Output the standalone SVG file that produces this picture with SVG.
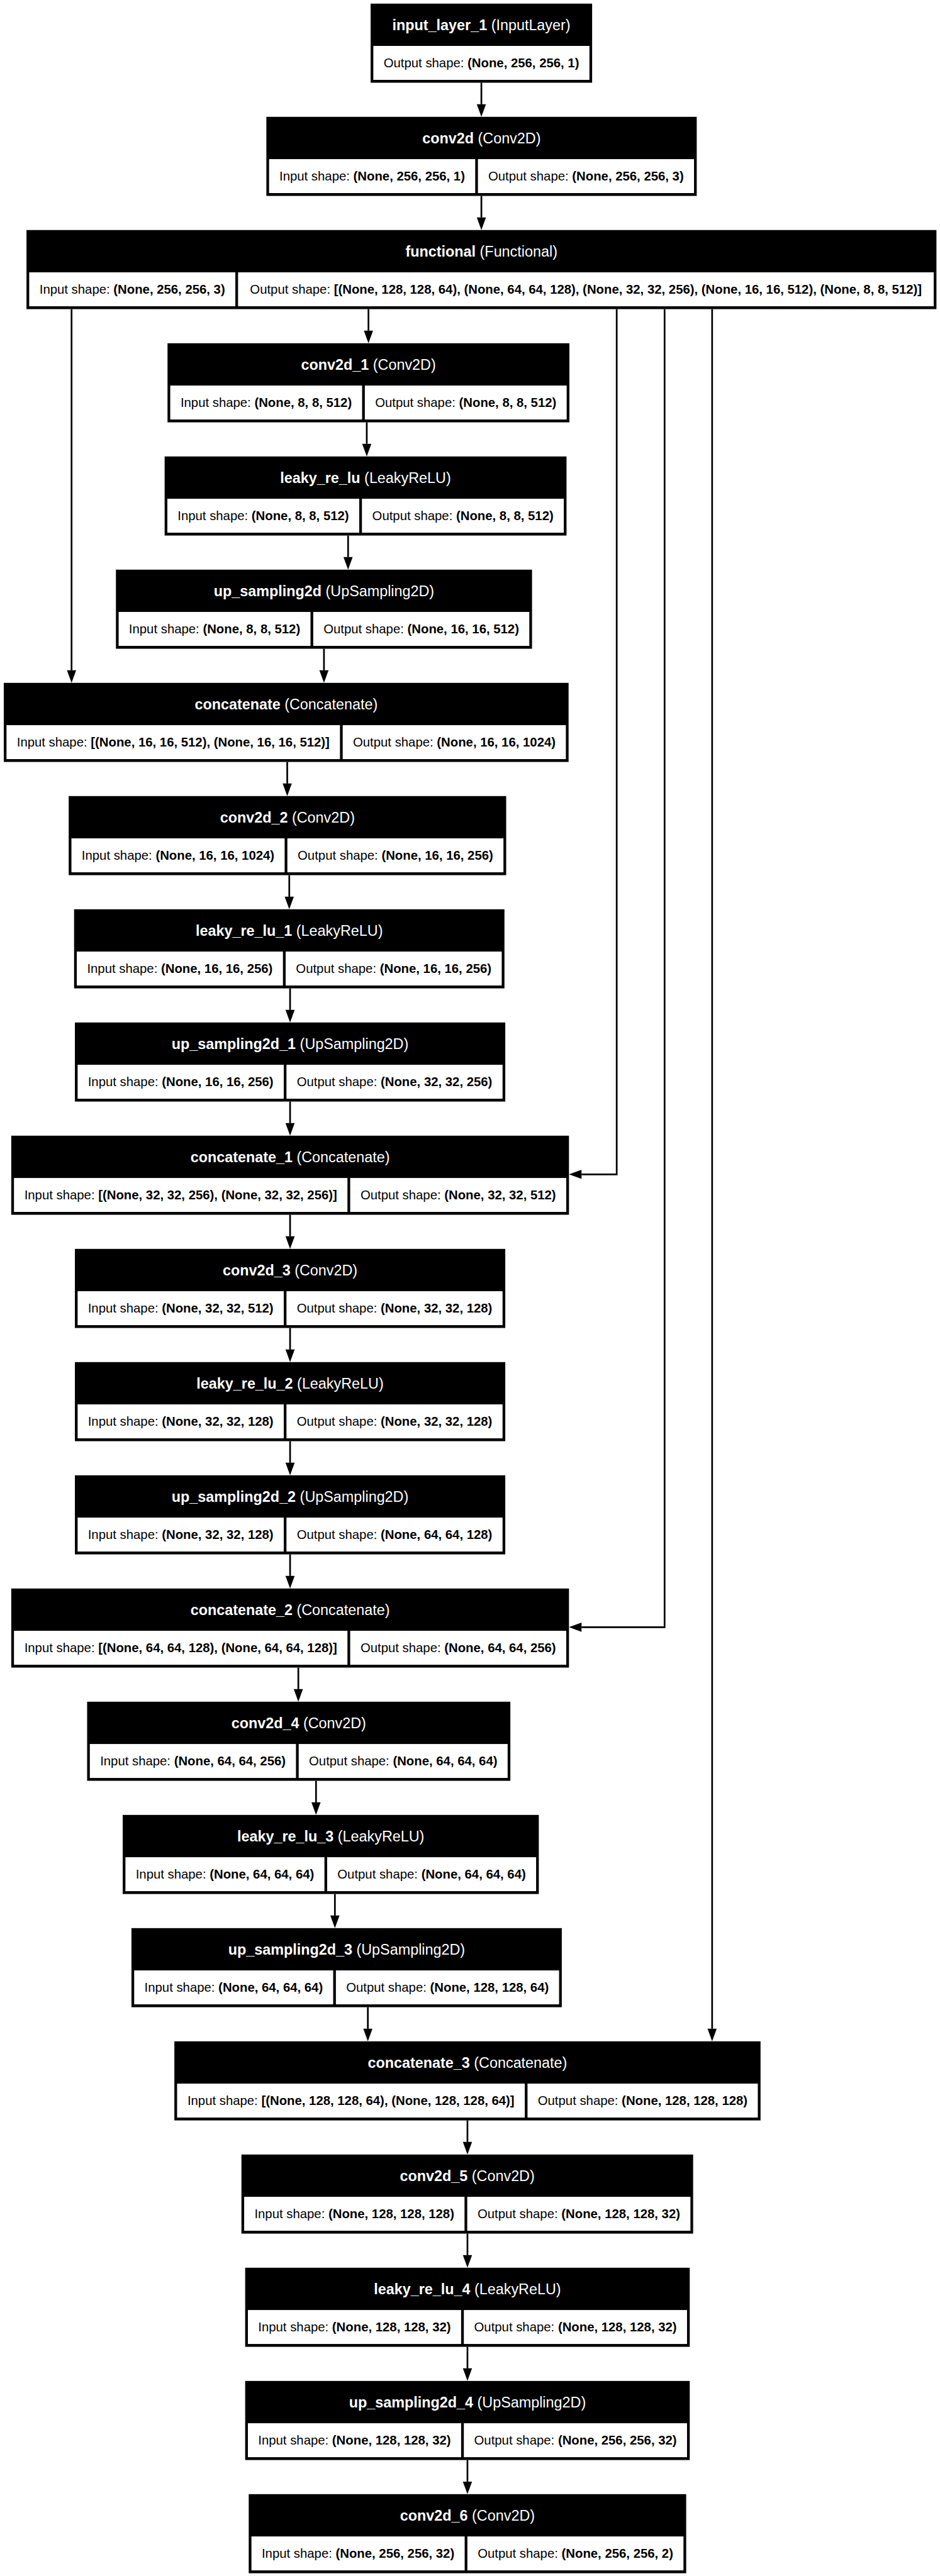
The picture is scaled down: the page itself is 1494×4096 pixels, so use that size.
<svg xmlns="http://www.w3.org/2000/svg" width="1494" height="4096" viewBox="0 0 1494 4096">
<style>
.nb{fill:#000}
.cl{fill:#fff}
.h{font-family:"Liberation Sans",Arial,Helvetica,sans-serif;font-size:43.3px;fill:#fff;text-anchor:middle}
.b{font-family:"Liberation Sans",Arial,Helvetica,sans-serif;font-size:37.7px;fill:#000;text-anchor:middle}
.bd{font-weight:bold}
.e{fill:none;stroke:#000;stroke-width:5;stroke-linejoin:miter;marker-end:url(#ah)}
</style>
<defs>
<marker id="ah" markerUnits="userSpaceOnUse" markerWidth="37" markerHeight="27" refX="0" refY="13.5" orient="auto" viewBox="0 0 37 27" overflow="visible"><path d="M0,0 L37,13.5 L0,27 z" fill="#000"/></marker>
</defs>
<rect width="1494" height="4096" fill="#fff"/>
<g transform="scale(0.53974)">
<g id="connectors">
<path class="e" d="M1417.5,243.7 V307.2"/>
<path class="e" d="M1417.5,577.2 V640.7"/>
<path class="e" d="M1085,910.7 V974.2"/>
<path class="e" d="M210.7,910.7 V1974.7"/>
<path class="e" d="M1816,910.7 V3459.7 H1712.45"/>
<path class="e" d="M1957,910.7 V4793.7 H1712.45"/>
<path class="e" d="M2097,910.7 V5976.7"/>
<path class="e" d="M1080,1244.2 V1307.7"/>
<path class="e" d="M1025,1577.7 V1641.2"/>
<path class="e" d="M954,1911.2 V1974.7"/>
<path class="e" d="M845.8,2244.7 V2308.2"/>
<path class="e" d="M851.8,2578.2 V2641.7"/>
<path class="e" d="M854.2,2911.7 V2975.2"/>
<path class="e" d="M854.2,3245.2 V3308.7"/>
<path class="e" d="M854.2,3578.7 V3642.2"/>
<path class="e" d="M854.2,3912.2 V3975.7"/>
<path class="e" d="M854.2,4245.7 V4309.2"/>
<path class="e" d="M854.2,4579.2 V4642.7"/>
<path class="e" d="M878.5,4912.7 V4976.2"/>
<path class="e" d="M930.6,5246.2 V5309.7"/>
<path class="e" d="M986.2,5579.7 V5643.2"/>
<path class="e" d="M1083.2,5913.2 V5976.7"/>
<path class="e" d="M1376.5,6246.7 V6310.2"/>
<path class="e" d="M1376.5,6580.2 V6643.7"/>
<path class="e" d="M1376.5,6913.7 V6977.2"/>
<path class="e" d="M1376.5,7247.2 V7310.7"/>
</g>

<g id="input_layer_1">
<rect class="nb" x="1091.35" y="10.7" width="652.3" height="233"/>
<rect class="cl" x="1099.35" y="135.3" width="636.3" height="100"/>
<text class="h" x="1417.5" y="88.7"><tspan class="bd">input_layer_1</tspan> (InputLayer)</text>
<text class="b" x="1417.5" y="198.7">Output shape: <tspan class="bd">(None, 256, 256, 1)</tspan></text>
</g>

<g id="conv2d">
<rect class="nb" x="784.35" y="344.2" width="1267.3" height="233"/>
<rect class="cl" x="792.35" y="468.8" width="607" height="100"/>
<rect class="cl" x="1407.35" y="468.8" width="636.3" height="100"/>
<text class="h" x="1418" y="422.2"><tspan class="bd">conv2d</tspan> (Conv2D)</text>
<text class="b" x="1095.85" y="532.2">Input shape: <tspan class="bd">(None, 256, 256, 1)</tspan></text>
<text class="b" x="1725.5" y="532.2">Output shape: <tspan class="bd">(None, 256, 256, 3)</tspan></text>
</g>

<g id="functional">
<rect class="nb" x="78" y="677.7" width="2679.5" height="233"/>
<rect class="cl" x="86" y="802.3" width="607" height="100"/>
<rect class="cl" x="701" y="802.3" width="2048.5" height="100"/>
<text class="h" x="1417.75" y="755.7"><tspan class="bd">functional</tspan> (Functional)</text>
<text class="b" x="389.5" y="865.7">Input shape: <tspan class="bd">(None, 256, 256, 3)</tspan></text>
<text class="b" x="1725.25" y="865.7">Output shape: <tspan class="bd">[(None, 128, 128, 64), (None, 64, 64, 128), (None, 32, 32, 256), (None, 16, 16, 512), (None, 8, 8, 512)]</tspan></text>
</g>

<g id="conv2d_1">
<rect class="nb" x="493.3" y="1011.2" width="1183.4" height="233"/>
<rect class="cl" x="501.3" y="1135.8" width="565" height="100"/>
<rect class="cl" x="1074.3" y="1135.8" width="594.4" height="100"/>
<text class="h" x="1085" y="1089.2"><tspan class="bd">conv2d_1</tspan> (Conv2D)</text>
<text class="b" x="783.8" y="1199.2">Input shape: <tspan class="bd">(None, 8, 8, 512)</tspan></text>
<text class="b" x="1371.5" y="1199.2">Output shape: <tspan class="bd">(None, 8, 8, 512)</tspan></text>
</g>

<g id="leaky_re_lu">
<rect class="nb" x="484.8" y="1344.7" width="1183.4" height="233"/>
<rect class="cl" x="492.8" y="1469.3" width="565" height="100"/>
<rect class="cl" x="1065.8" y="1469.3" width="594.4" height="100"/>
<text class="h" x="1076.5" y="1422.7"><tspan class="bd">leaky_re_lu</tspan> (LeakyReLU)</text>
<text class="b" x="775.3" y="1532.7">Input shape: <tspan class="bd">(None, 8, 8, 512)</tspan></text>
<text class="b" x="1363" y="1532.7">Output shape: <tspan class="bd">(None, 8, 8, 512)</tspan></text>
</g>

<g id="up_sampling2d">
<rect class="nb" x="341.35" y="1678.2" width="1225.3" height="233"/>
<rect class="cl" x="349.35" y="1802.8" width="565" height="100"/>
<rect class="cl" x="922.35" y="1802.8" width="636.3" height="100"/>
<text class="h" x="954" y="1756.2"><tspan class="bd">up_sampling2d</tspan> (UpSampling2D)</text>
<text class="b" x="631.85" y="1866.2">Input shape: <tspan class="bd">(None, 8, 8, 512)</tspan></text>
<text class="b" x="1240.5" y="1866.2">Output shape: <tspan class="bd">(None, 16, 16, 512)</tspan></text>
</g>

<g id="concatenate">
<rect class="nb" x="11.1" y="2011.7" width="1663.2" height="233"/>
<rect class="cl" x="19.1" y="2136.3" width="982" height="100"/>
<rect class="cl" x="1009.1" y="2136.3" width="657.2" height="100"/>
<text class="h" x="842.7" y="2089.7"><tspan class="bd">concatenate</tspan> (Concatenate)</text>
<text class="b" x="510.1" y="2199.7">Input shape: <tspan class="bd">[(None, 16, 16, 512), (None, 16, 16, 512)]</tspan></text>
<text class="b" x="1337.7" y="2199.7">Output shape: <tspan class="bd">(None, 16, 16, 1024)</tspan></text>
</g>

<g id="conv2d_2">
<rect class="nb" x="202.3" y="2345.2" width="1288.2" height="233"/>
<rect class="cl" x="210.3" y="2469.8" width="627.9" height="100"/>
<rect class="cl" x="846.2" y="2469.8" width="636.3" height="100"/>
<text class="h" x="846.4" y="2423.2"><tspan class="bd">conv2d_2</tspan> (Conv2D)</text>
<text class="b" x="524.25" y="2533.2">Input shape: <tspan class="bd">(None, 16, 16, 1024)</tspan></text>
<text class="b" x="1164.35" y="2533.2">Output shape: <tspan class="bd">(None, 16, 16, 256)</tspan></text>
</g>

<g id="leaky_re_lu_1">
<rect class="nb" x="218.15" y="2678.7" width="1267.3" height="233"/>
<rect class="cl" x="226.15" y="2803.3" width="607" height="100"/>
<rect class="cl" x="841.15" y="2803.3" width="636.3" height="100"/>
<text class="h" x="851.8" y="2756.7"><tspan class="bd">leaky_re_lu_1</tspan> (LeakyReLU)</text>
<text class="b" x="529.65" y="2866.7">Input shape: <tspan class="bd">(None, 16, 16, 256)</tspan></text>
<text class="b" x="1159.3" y="2866.7">Output shape: <tspan class="bd">(None, 16, 16, 256)</tspan></text>
</g>

<g id="up_sampling2d_1">
<rect class="nb" x="220.55" y="3012.2" width="1267.3" height="233"/>
<rect class="cl" x="228.55" y="3136.8" width="607" height="100"/>
<rect class="cl" x="843.55" y="3136.8" width="636.3" height="100"/>
<text class="h" x="854.2" y="3090.2"><tspan class="bd">up_sampling2d_1</tspan> (UpSampling2D)</text>
<text class="b" x="532.05" y="3200.2">Input shape: <tspan class="bd">(None, 16, 16, 256)</tspan></text>
<text class="b" x="1161.7" y="3200.2">Output shape: <tspan class="bd">(None, 32, 32, 256)</tspan></text>
</g>

<g id="concatenate_1">
<rect class="nb" x="33.15" y="3345.7" width="1642.3" height="233"/>
<rect class="cl" x="41.15" y="3470.3" width="982" height="100"/>
<rect class="cl" x="1031.15" y="3470.3" width="636.3" height="100"/>
<text class="h" x="854.3" y="3423.7"><tspan class="bd">concatenate_1</tspan> (Concatenate)</text>
<text class="b" x="532.15" y="3533.7">Input shape: <tspan class="bd">[(None, 32, 32, 256), (None, 32, 32, 256)]</tspan></text>
<text class="b" x="1349.3" y="3533.7">Output shape: <tspan class="bd">(None, 32, 32, 512)</tspan></text>
</g>

<g id="conv2d_3">
<rect class="nb" x="220.55" y="3679.2" width="1267.3" height="233"/>
<rect class="cl" x="228.55" y="3803.8" width="607" height="100"/>
<rect class="cl" x="843.55" y="3803.8" width="636.3" height="100"/>
<text class="h" x="854.2" y="3757.2"><tspan class="bd">conv2d_3</tspan> (Conv2D)</text>
<text class="b" x="532.05" y="3867.2">Input shape: <tspan class="bd">(None, 32, 32, 512)</tspan></text>
<text class="b" x="1161.7" y="3867.2">Output shape: <tspan class="bd">(None, 32, 32, 128)</tspan></text>
</g>

<g id="leaky_re_lu_2">
<rect class="nb" x="220.55" y="4012.7" width="1267.3" height="233"/>
<rect class="cl" x="228.55" y="4137.3" width="607" height="100"/>
<rect class="cl" x="843.55" y="4137.3" width="636.3" height="100"/>
<text class="h" x="854.2" y="4090.7"><tspan class="bd">leaky_re_lu_2</tspan> (LeakyReLU)</text>
<text class="b" x="532.05" y="4200.7">Input shape: <tspan class="bd">(None, 32, 32, 128)</tspan></text>
<text class="b" x="1161.7" y="4200.7">Output shape: <tspan class="bd">(None, 32, 32, 128)</tspan></text>
</g>

<g id="up_sampling2d_2">
<rect class="nb" x="220.55" y="4346.2" width="1267.3" height="233"/>
<rect class="cl" x="228.55" y="4470.8" width="607" height="100"/>
<rect class="cl" x="843.55" y="4470.8" width="636.3" height="100"/>
<text class="h" x="854.2" y="4424.2"><tspan class="bd">up_sampling2d_2</tspan> (UpSampling2D)</text>
<text class="b" x="532.05" y="4534.2">Input shape: <tspan class="bd">(None, 32, 32, 128)</tspan></text>
<text class="b" x="1161.7" y="4534.2">Output shape: <tspan class="bd">(None, 64, 64, 128)</tspan></text>
</g>

<g id="concatenate_2">
<rect class="nb" x="33.15" y="4679.7" width="1642.3" height="233"/>
<rect class="cl" x="41.15" y="4804.3" width="982" height="100"/>
<rect class="cl" x="1031.15" y="4804.3" width="636.3" height="100"/>
<text class="h" x="854.3" y="4757.7"><tspan class="bd">concatenate_2</tspan> (Concatenate)</text>
<text class="b" x="532.15" y="4867.7">Input shape: <tspan class="bd">[(None, 64, 64, 128), (None, 64, 64, 128)]</tspan></text>
<text class="b" x="1349.3" y="4867.7">Output shape: <tspan class="bd">(None, 64, 64, 256)</tspan></text>
</g>

<g id="conv2d_4">
<rect class="nb" x="256.55" y="5013.2" width="1246.3" height="233"/>
<rect class="cl" x="264.55" y="5137.8" width="607" height="100"/>
<rect class="cl" x="879.55" y="5137.8" width="615.3" height="100"/>
<text class="h" x="879.7" y="5091.2"><tspan class="bd">conv2d_4</tspan> (Conv2D)</text>
<text class="b" x="568.05" y="5201.2">Input shape: <tspan class="bd">(None, 64, 64, 256)</tspan></text>
<text class="b" x="1187.2" y="5201.2">Output shape: <tspan class="bd">(None, 64, 64, 64)</tspan></text>
</g>

<g id="leaky_re_lu_3">
<rect class="nb" x="361.35" y="5346.7" width="1225.3" height="233"/>
<rect class="cl" x="369.35" y="5471.3" width="586" height="100"/>
<rect class="cl" x="963.35" y="5471.3" width="615.3" height="100"/>
<text class="h" x="974" y="5424.7"><tspan class="bd">leaky_re_lu_3</tspan> (LeakyReLU)</text>
<text class="b" x="662.35" y="5534.7">Input shape: <tspan class="bd">(None, 64, 64, 64)</tspan></text>
<text class="b" x="1271" y="5534.7">Output shape: <tspan class="bd">(None, 64, 64, 64)</tspan></text>
</g>

<g id="up_sampling2d_3">
<rect class="nb" x="387.1" y="5680.2" width="1267.2" height="233"/>
<rect class="cl" x="395.1" y="5804.8" width="586" height="100"/>
<rect class="cl" x="989.1" y="5804.8" width="657.2" height="100"/>
<text class="h" x="1020.7" y="5758.2"><tspan class="bd">up_sampling2d_3</tspan> (UpSampling2D)</text>
<text class="b" x="688.1" y="5868.2">Input shape: <tspan class="bd">(None, 64, 64, 64)</tspan></text>
<text class="b" x="1317.7" y="5868.2">Output shape: <tspan class="bd">(None, 128, 128, 64)</tspan></text>
</g>

<g id="concatenate_3">
<rect class="nb" x="513.45" y="6013.7" width="1726.1" height="233"/>
<rect class="cl" x="521.45" y="6138.3" width="1023.9" height="100"/>
<rect class="cl" x="1553.35" y="6138.3" width="678.2" height="100"/>
<text class="h" x="1376.5" y="6091.7"><tspan class="bd">concatenate_3</tspan> (Concatenate)</text>
<text class="b" x="1033.4" y="6201.7">Input shape: <tspan class="bd">[(None, 128, 128, 64), (None, 128, 128, 64)]</tspan></text>
<text class="b" x="1892.45" y="6201.7">Output shape: <tspan class="bd">(None, 128, 128, 128)</tspan></text>
</g>

<g id="conv2d_5">
<rect class="nb" x="710.95" y="6347.2" width="1330.1" height="233"/>
<rect class="cl" x="718.95" y="6471.8" width="648.9" height="100"/>
<rect class="cl" x="1375.85" y="6471.8" width="657.2" height="100"/>
<text class="h" x="1376" y="6425.2"><tspan class="bd">conv2d_5</tspan> (Conv2D)</text>
<text class="b" x="1043.4" y="6535.2">Input shape: <tspan class="bd">(None, 128, 128, 128)</tspan></text>
<text class="b" x="1704.45" y="6535.2">Output shape: <tspan class="bd">(None, 128, 128, 32)</tspan></text>
</g>

<g id="leaky_re_lu_4">
<rect class="nb" x="721.95" y="6680.7" width="1309.1" height="233"/>
<rect class="cl" x="729.95" y="6805.3" width="627.9" height="100"/>
<rect class="cl" x="1365.85" y="6805.3" width="657.2" height="100"/>
<text class="h" x="1376.5" y="6758.7"><tspan class="bd">leaky_re_lu_4</tspan> (LeakyReLU)</text>
<text class="b" x="1043.9" y="6868.7">Input shape: <tspan class="bd">(None, 128, 128, 32)</tspan></text>
<text class="b" x="1694.45" y="6868.7">Output shape: <tspan class="bd">(None, 128, 128, 32)</tspan></text>
</g>

<g id="up_sampling2d_4">
<rect class="nb" x="721.95" y="7014.2" width="1309.1" height="233"/>
<rect class="cl" x="729.95" y="7138.8" width="627.9" height="100"/>
<rect class="cl" x="1365.85" y="7138.8" width="657.2" height="100"/>
<text class="h" x="1376.5" y="7092.2"><tspan class="bd">up_sampling2d_4</tspan> (UpSampling2D)</text>
<text class="b" x="1043.9" y="7202.2">Input shape: <tspan class="bd">(None, 128, 128, 32)</tspan></text>
<text class="b" x="1694.45" y="7202.2">Output shape: <tspan class="bd">(None, 256, 256, 32)</tspan></text>
</g>

<g id="conv2d_6">
<rect class="nb" x="732.4" y="7347.7" width="1288.2" height="233"/>
<rect class="cl" x="740.4" y="7472.3" width="627.9" height="100"/>
<rect class="cl" x="1376.3" y="7472.3" width="636.3" height="100"/>
<text class="h" x="1376.5" y="7425.7"><tspan class="bd">conv2d_6</tspan> (Conv2D)</text>
<text class="b" x="1054.35" y="7535.7">Input shape: <tspan class="bd">(None, 256, 256, 32)</tspan></text>
<text class="b" x="1694.45" y="7535.7">Output shape: <tspan class="bd">(None, 256, 256, 2)</tspan></text>
</g>
</g>
</svg>
